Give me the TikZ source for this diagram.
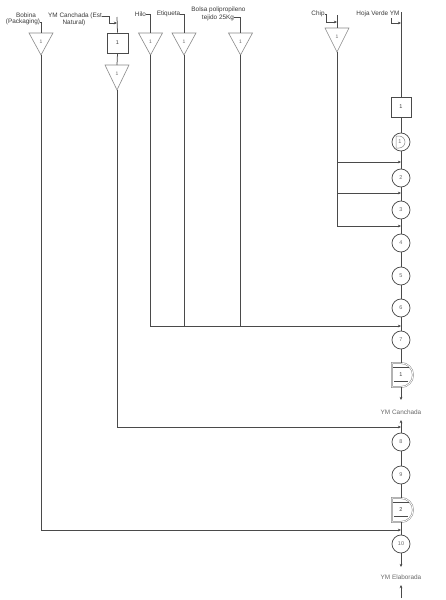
\documentclass[tikz,border=0pt]{standalone}
\usepackage{fontspec}
\setmainfont{Liberation Sans}
\usetikzlibrary{arrows.meta}
\definecolor{lineC}{HTML}{4A4A4A}
\definecolor{triC}{HTML}{8A8A8A}
\definecolor{textC}{HTML}{3A3A3A}
\definecolor{numC}{HTML}{6A6A6A}
\newcommand\trisym[4]{%
  \draw[tri] (#2-12,#3) -- (#2+12,#3) -- (#2,#3+#4) -- cycle;
  \node[num] (#1n) at (#2,#3+9) {1};
  \coordinate (#1t) at (#2,#3);
  \coordinate (#1b) at (#2,#3+#4);}
\newcommand\dsym[4]{%
  \draw[dsh] (#2-9,#3) -- (#2,#3) arc[start angle=90,end angle=-90,radius=12pt] -- (#2-9,#3+24) -- cycle;
  \node[insp] (#1) at (#2,#3+12) {#4};
  \coordinate (#1t) at (#2,#3);
  \coordinate (#1b) at (#2,#3+24);}
\begin{document}
\begin{tikzpicture}[x=1pt,y=-1pt,
  ln/.style={draw=lineC,line width=0.75pt},
  arr/.style={ln,-{Stealth[length=3.2pt,width=2.8pt]}},
  lbl/.style={font=\fontsize{6.4}{7}\selectfont,text=textC,inner sep=0pt},
  num/.style={font=\fontsize{5}{6}\selectfont,text=numC,inner sep=0pt},
  op/.style={circle,draw=lineC,line width=0.75pt,fill=white,minimum size=18pt,inner sep=0pt,font=\fontsize{5.5}{6}\selectfont,text=numC},
  box/.style={rectangle,draw=lineC,line width=0.9pt,fill=white,minimum size=20pt,inner sep=0pt,font=\fontsize{5.5}{6}\selectfont,text=textC},
  insp/.style={rectangle,draw=lineC,double=white,double distance=0.8pt,line width=0.5pt,fill=white,minimum width=15pt,minimum height=14pt,inner sep=0pt,font=\fontsize{5.5}{6}\selectfont,text=textC},
  tri/.style={draw=triC,line width=0.6pt,fill=white},
  dsh/.style={draw=triC,double=white,double distance=0.8pt,line width=0.5pt,fill=white}
]
\useasboundingbox[fill=white] (0,0) rectangle (446,600);

% ---- top labels ----
\node[lbl] (bobA) at (26,15) {Bobina};
\node[lbl] (bobB2) at (23,22) {(Packaging)};
\node[lbl] (ycA) at (75,16) {YM Canchada (Est};
\node[lbl] (ycB2) at (74,23) {Natural)};
\node[lbl] (hilo) at (140.5,14) {Hilo};
\node[lbl] (etq) at (168.5,14) {Etiqueta};
\node[lbl] (bolA) at (218.5,10) {Bolsa polipropileno};
\node[lbl] (bolB2) at (218,17.5) {tejido 25Kg};
\node[lbl] (chip) at (318,14) {Chip};
\node[lbl] (hv) at (378,14) {Hoja Verde YM};

% ---- triangles ----
\trisym{bob}{41}{33}{22}
\trisym{hil}{150.5}{33}{22}
\trisym{etq}{184}{33}{22}
\trisym{bol}{240.5}{33}{22}
\trisym{chp}{337}{28}{24}
\trisym{yct}{117}{65}{25}

% ---- YM Canchada (Est Natural) branch ----
\coordinate (ycTop) at (117,17);
\coordinate (ycJ) at (117,23);
\node[box,minimum width=21pt] (ycbox) at (117.5,43) {1};
\draw[ln] (ycA.east) -- ++(7,0) coordinate (ycK);
\draw[arr] (ycK) |- (ycJ);
\draw[ln] (ycTop) -- (ycbox.north);
\draw[ln] (ycbox.south) -- (yctt);

% label connectors
\draw[ln] (bobB2.east) -| (bobt);
\draw[ln] (hilo.east) -| (hilt);
\draw[ln] (etq.east) -| (etqt);
\draw[ln] (bolB2.east) -| (bolt);
\coordinate (chTop) at (337,15);
\coordinate (chJ) at (337,22);
\draw[ln] (chip.east) -- ++(2,0) coordinate (chK);
\draw[arr] (chK) |- (chJ);
\draw[ln] (chTop) -- (chpt);

% ---- main line ----
\coordinate (hvTop) at (401,12);
\coordinate (hvJ) at (401,23);
\coordinate (hvK) at (391,18);
\draw[arr] (hvK) |- (hvJ);

\node[box] (b1) at (401,107) {1};
\node[op] (c1) at (401,142) {};
\node[op] (c2) at (401,178) {2};
\node[op] (c3) at (401,210) {3};
\node[op] (c4) at (401,243) {4};
\node[op] (c5) at (401,276) {5};
\node[op] (c6) at (401,308) {6};
\node[op] (c7) at (401,340) {7};
\node[op] (c8) at (401,442) {8};
\node[op] (c9) at (401,475) {9};
\node[op] (c10) at (401,544) {10};

% D inside circle 1
\draw[draw=triC,line width=0.5pt] (396,136) -- (399,136) arc[start angle=90,end angle=-90,radius=6pt] -- (396,148) -- cycle;
\node[num,font=\fontsize{5.5}{6}\selectfont] (c1n) at (400,142) {1};

\dsym{d1}{401}{363}{1}
\dsym{d2}{401}{498}{2}

\node[lbl,text=numC] (ymcl) at (401,412) {YM Canchada};
\node[lbl,text=numC] (ymel) at (401,577) {YM Elaborada};

\coordinate (ymcA) at (401,400);
\coordinate (ymcB) at (401,420);
\coordinate (ymeA) at (401,567);
\coordinate (ymeB) at (401,585);
\coordinate (ymeC) at (401,598);

\draw[ln] (hvTop) -- (b1.north);
\draw[ln] (b1) -- (c1) -- (c2) -- (c3) -- (c4) -- (c5) -- (c6) -- (c7);
\draw[ln] (c7) -- (d1t);
\draw[arr] (d1b) -- (ymcA);
\draw[arr] (c8) -- (ymcB);
\draw[ln] (c8) -- (c9);
\draw[ln] (c9) -- (d2t);
\draw[ln] (d2b) -- (c10);
\draw[arr] (c10) -- (ymeA);
\draw[arr,line width=0.5pt] (ymeC) -- (ymeB);

% junctions on main line
\coordinate (j1) at (401,162);
\coordinate (j2) at (401,193);
\coordinate (j3) at (401,226);
\coordinate (j6) at (401,326);
\coordinate (j8) at (401,427);
\coordinate (j10) at (401,530);

% chip feeds
\draw[ln] (chpb) -- (chpb |- j3);
\draw[arr] (chpb |- j1) -- (j1);
\draw[arr] (chpb |- j2) -- (j2);
\draw[arr] (chpb |- j3) -- (j3);

% hilo / etiqueta / bolsa feeds
\draw[arr] (hilb) |- (j6);
\draw[ln] (etqb) -- (etqb |- j6);
\draw[ln] (bolb) -- (bolb |- j6);

% YM Canchada triangle feed
\draw[arr] (yctb) |- (j8);

% Bobina feed
\draw[arr] (bobb) |- (j10);
\end{tikzpicture}
\end{document}
